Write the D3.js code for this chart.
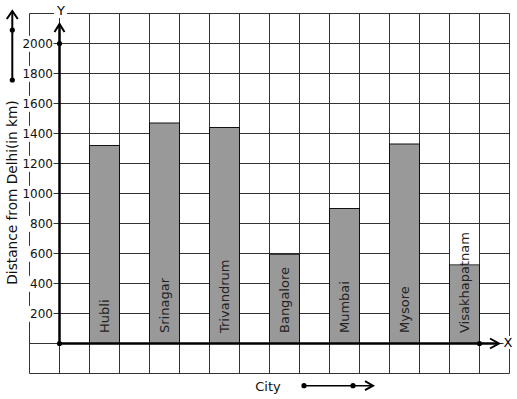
<!DOCTYPE html>
<html>
<head>
<meta charset="utf-8">
<script src="https://cdn.jsdelivr.net/npm/d3@7"></script>
<style>
  body { margin: 0; background: #fff; }
  text { font-family: "DejaVu Sans", sans-serif; }
</style>
</head>
<body>
<div id="chart"></div>
<script>
// data
var cities = ["Hubli", "Srinagar", "Trivandrum", "Bangalore", "Mumbai", "Mysore", "Visakhapatnam"];
var distances = [1320, 1470, 1440, 595, 900, 1330, 525];
var yTicks = [200, 400, 600, 800, 1000, 1200, 1400, 1600, 1800, 2000];

var width = 517, height = 399;

var svg = d3.select("#chart").append("svg")
    .attr("width", width)
    .attr("height", height);

// grid columns of 30px, 16 of them
var x = d3.scaleLinear().domain([0, 16]).range([29.5, 509.5]);
var y = d3.scaleLinear().domain([0, 2000]).range([343.5, 43.5]);

// grid
var grid = svg.append("g").attr("stroke", "#333").attr("stroke-width", 1);
d3.range(0, 17).forEach(function (i) {
    grid.append("line")
        .attr("x1", x(i)).attr("x2", x(i))
        .attr("y1", y(2200)).attr("y2", y(-200));
});
d3.range(-200, 2201, 200).forEach(function (v) {
    grid.append("line")
        .attr("x1", x(0)).attr("x2", x(16))
        .attr("y1", y(v)).attr("y2", y(v));
});

// bars
var bars = svg.append("g");
bars.selectAll("rect")
    .data(distances)
    .enter()
    .append("rect")
    .attr("x", function (d, i) { return x(2 + 2 * i); })
    .attr("width", x(3) - x(2))
    .attr("y", function (d) { return y(d); })
    .attr("height", function (d) { return y(0) - y(d); })
    .attr("fill", "#999")
    .attr("stroke", "#111")
    .attr("stroke-width", 1);

// bar labels, rotated
var labels = svg.append("g");
cities.forEach(function (c, i) {
    var cx = (x(2 + 2 * i) + x(3 + 2 * i)) / 2;
    var t = labels.append("text")
        .attr("transform", "translate(" + (cx + 4.5) + "," + 333 + ") rotate(-90)")
        .attr("font-size", 13)
        .attr("fill", "#222")
        .text(c);
    var len = t.node().getComputedTextLength();
    var top = 333 - len - 1;
    if (top < y(distances[i])) {
        // white patch where the name runs past the bar
        labels.insert("rect", "text")
            .attr("x", x(2 + 2 * i) + 0.5)
            .attr("width", x(3) - x(2) - 1)
            .attr("y", top)
            .attr("height", y(distances[i]) - top - 0.5)
            .attr("fill", "#fff");
    }
});

// y tick labels with white background
var ticks = svg.append("g");
yTicks.forEach(function (v) {
    var t = ticks.append("text")
        .attr("x", 53)
        .attr("y", y(v))
        .attr("dy", "0.36em")
        .attr("text-anchor", "end")
        .attr("font-size", 12)
        .attr("fill", "#111")
        .text(v);
    var b = t.node().getBBox();
    ticks.insert("rect", "text")
        .attr("x", b.x - 1.5)
        .attr("y", b.y - 1)
        .attr("width", b.width + 2)
        .attr("height", b.height + 2)
        .attr("fill", "#fff");
});

function arrowHead(g, tipX, tipY, dir, len, half) {
    var pts;
    if (dir === "up") pts = [[tipX - half, tipY + len], [tipX, tipY], [tipX + half, tipY + len]];
    else pts = [[tipX - len, tipY - half], [tipX, tipY], [tipX - len, tipY + half]];
    g.append("path")
        .attr("d", d3.line()(pts))
        .attr("fill", "none")
        .attr("stroke", "#000")
        .attr("stroke-width", 2);
}

function dot(g, cx, cy) {
    g.append("circle").attr("cx", cx).attr("cy", cy).attr("r", 2.6).attr("fill", "#000");
}

// axes
var axes = svg.append("g");
axes.append("line")
    .attr("x1", x(1)).attr("x2", x(1))
    .attr("y1", y(0)).attr("y2", 25)
    .attr("stroke", "#000").attr("stroke-width", 2.5);
arrowHead(axes, x(1), 24, "up", 8, 5);
axes.append("line")
    .attr("x1", x(1)).attr("x2", 498)
    .attr("y1", y(0)).attr("y2", y(0))
    .attr("stroke", "#000").attr("stroke-width", 2.5);
arrowHead(axes, 499, y(0), "right", 9, 5);
dot(axes, x(1), y(0));
dot(axes, x(1), y(2000));
dot(axes, x(15), y(0));

// axis letters
var yl = axes.append("text")
    .attr("x", 61).attr("y", 15)
    .attr("text-anchor", "middle")
    .attr("font-size", 13)
    .text("Y");
var yb = yl.node().getBBox();
axes.insert("rect", "text")
    .attr("x", yb.x - 2).attr("y", yb.y).attr("width", yb.width + 4).attr("height", yb.height)
    .attr("fill", "#fff");
var xl = axes.append("text")
    .attr("x", 508).attr("y", 347)
    .attr("text-anchor", "middle")
    .attr("font-size", 13)
    .text("X");
var xb = xl.node().getBBox();
axes.insert("rect", "text")
    .attr("x", xb.x).attr("y", xb.y + 1).attr("width", xb.width).attr("height", xb.height - 2)
    .attr("fill", "#fff");

// axis titles
svg.append("text")
    .attr("transform", "translate(16.5,192.5) rotate(-90)")
    .attr("text-anchor", "middle")
    .attr("font-size", 13.7)
    .attr("fill", "#111")
    .text("Distance from Delhi(in km)");

svg.append("text")
    .attr("x", 268).attr("y", 391)
    .attr("text-anchor", "middle")
    .attr("font-size", 13)
    .attr("fill", "#111")
    .text("City");

// small direction arrows
var deco = svg.append("g");
deco.append("line")
    .attr("x1", 12.3).attr("x2", 12.3).attr("y1", 80).attr("y2", 12)
    .attr("stroke", "#000").attr("stroke-width", 2);
arrowHead(deco, 12.3, 11, "up", 8, 5.5);
dot(deco, 12.3, 30);
dot(deco, 12.3, 80);

deco.append("line")
    .attr("x1", 304).attr("x2", 372).attr("y1", 385.7).attr("y2", 385.7)
    .attr("stroke", "#000").attr("stroke-width", 1.6);
arrowHead(deco, 373, 385.7, "right", 8, 4.5);
dot(deco, 304, 385.7);
dot(deco, 353, 385.7);
</script>
</body>
</html>
